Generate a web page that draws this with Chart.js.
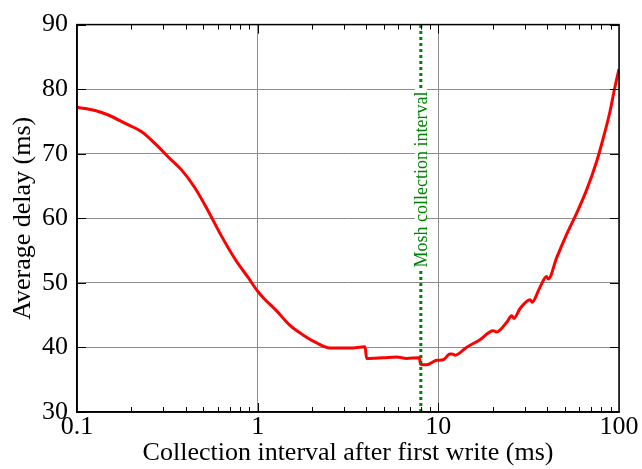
<!DOCTYPE html>
<html>
<head>
<meta charset="utf-8">
<script src="https://cdn.jsdelivr.net/npm/chart.js@4.4.1/dist/chart.umd.min.js"></script>
<style>
  html, body { margin: 0; padding: 0; background: #fff; }
  #wrap { width: 642px; height: 469px; }
</style>
</head>
<body>
<div id="wrap"><canvas id="delayChart"></canvas></div>
<script>
// values
const intervalMs = [0.1, 0.126, 0.149, 0.185, 0.228, 0.27, 0.32, 0.379, 0.45, 0.533, 0.632, 0.749, 0.887,
  1.0, 1.074, 1.27, 1.51, 1.79, 2.12, 2.51, 3.24, 3.93, 4.01, 4.96, 5.88, 6.68, 7.84, 7.98, 8.61, 9.79,
  10.65, 11.6, 11.9, 12.4, 14.3, 17.0, 20.1, 21.0, 23.9, 25.5, 26.2, 28.3, 32.2, 33.0, 36.5, 39.7, 40.6,
  45.2, 51.3, 58.3, 66.2, 75.2, 81.8, 89.1, 94.9, 100];
const avgDelayMs = [77.2, 76.7, 76.0, 74.7, 73.4, 71.6, 69.5, 67.5, 64.7, 61.1, 57.2, 53.7, 50.8,
  48.7, 47.7, 45.7, 43.4, 41.9, 40.7, 39.9, 39.9, 40.1, 38.3, 38.4, 38.5, 38.3, 38.4, 37.4, 37.3, 38.0,
  38.1, 39.0, 39.0, 38.8, 40.0, 41.2, 42.6, 42.4, 43.9, 44.9, 44.5, 46.0, 47.4, 47.0, 49.3, 51.0, 50.6,
  53.9, 57.5, 60.8, 64.4, 68.8, 72.4, 76.5, 80.3, 83.1];
const moshInterval = 8;
const moshLabel = 'Mosh collection interval';
const xTickValues = [0.1, 1, 10, 100];
const xMinorDecades = [0.1, 1, 10];

const serif = "'Liberation Serif', 'Times New Roman', serif";
Chart.defaults.font.family = serif;
Chart.defaults.color = '#000';

const frameAndTicks = {
  id: 'frameAndTicks',
  afterDraw(chart) {
    const { ctx, chartArea: a, scales: { x, y } } = chart;
    ctx.save();
    ctx.strokeStyle = '#000';
    ctx.lineWidth = 1;
    ctx.beginPath();
    // minor + major ticks on x, bottom and top, pointing in
    xMinorDecades.forEach(d => {
      for (let k = 2; k <= 9; k++) {
        const px = Math.round(x.getPixelForValue(k * d)) + 0.5;
        ctx.moveTo(px, a.bottom); ctx.lineTo(px, a.bottom - 5);
        ctx.moveTo(px, a.top); ctx.lineTo(px, a.top + 5);
      }
    });
    [1, 10].forEach(v => {
      const px = Math.round(x.getPixelForValue(v)) + 0.5;
      ctx.moveTo(px, a.bottom); ctx.lineTo(px, a.bottom - 9);
      ctx.moveTo(px, a.top); ctx.lineTo(px, a.top + 9);
    });
    y.ticks.forEach(t => {
      const py = Math.round(y.getPixelForValue(t.value)) + 0.5;
      ctx.moveTo(a.left, py); ctx.lineTo(a.left + 9, py);
      ctx.moveTo(a.right, py); ctx.lineTo(a.right - 9, py);
    });
    ctx.stroke();
    ctx.lineWidth = 1.5;
    ctx.strokeRect(a.left, a.top, a.right - a.left, a.bottom - a.top);

    // label on the mosh line
    const lx = x.getPixelForValue(moshInterval);
    const ly = a.top + 0.4 * (a.bottom - a.top);
    ctx.translate(lx, ly);
    ctx.rotate(-Math.PI / 2);
    ctx.font = '18px ' + serif;
    const w = ctx.measureText(moshLabel).width;
    ctx.fillStyle = '#fff';
    ctx.fillRect(-w / 2 - 3, -6, w + 6, 12);
    ctx.fillStyle = '#008000';
    ctx.textAlign = 'center';
    ctx.textBaseline = 'middle';
    ctx.fillText(moshLabel, 0, 1);
    ctx.restore();
  }
};

new Chart(document.getElementById('delayChart'), {
  type: 'scatter',
  data: {
    datasets: [{
      label: 'Average delay',
      data: intervalMs.map((v, i) => ({ x: v, y: avgDelayMs[i] })),
      showLine: true,
      borderColor: '#ff0000',
      borderWidth: 3,
      cubicInterpolationMode: 'monotone',
      pointRadius: 0,
      order: 2
    }, {
      label: moshLabel,
      data: [{ x: moshInterval, y: 30 }, { x: moshInterval, y: 90 }],
      showLine: true,
      borderColor: '#008000',
      borderWidth: 3,
      borderDash: [3, 3],
      pointRadius: 0,
      order: 1
    }]
  },
  options: {
    responsive: true,
    maintainAspectRatio: false,
    animation: false,
    layout: { padding: { top: 22, right: 23, left: 0, bottom: 0 } },
    plugins: { legend: { display: false }, tooltip: { enabled: false } },
    scales: {
      x: {
        type: 'logarithmic',
        min: 0.1,
        max: 100,
        afterBuildTicks: s => { s.ticks = xTickValues.map(v => ({ value: v })); },
        afterFit: s => { s.height = 57; },
        ticks: {
          autoSkip: false,
          maxRotation: 0,
          padding: 0,
          font: { size: 26 },
          callback: v => String(v)
        },
        grid: { color: '#8c8c8c', lineWidth: 1, drawTicks: false },
        border: { color: '#000', width: 1.5 },
        title: {
          display: true,
          text: 'Collection interval after first write (ms)',
          font: { size: 26 },
          padding: { top: 0, bottom: 0 }
        }
      },
      y: {
        min: 30,
        max: 90,
        afterFit: s => { s.width = 77; },
        ticks: { stepSize: 10, padding: 9, font: { size: 26 } },
        grid: { color: '#8c8c8c', lineWidth: 1, drawTicks: false },
        border: { color: '#000', width: 1.5 },
        title: {
          display: true,
          text: 'Average delay (ms)',
          font: { size: 26 },
          padding: { top: 8, bottom: 0 }
        }
      }
    }
  },
  plugins: [frameAndTicks]
});
</script>
</body>
</html>
